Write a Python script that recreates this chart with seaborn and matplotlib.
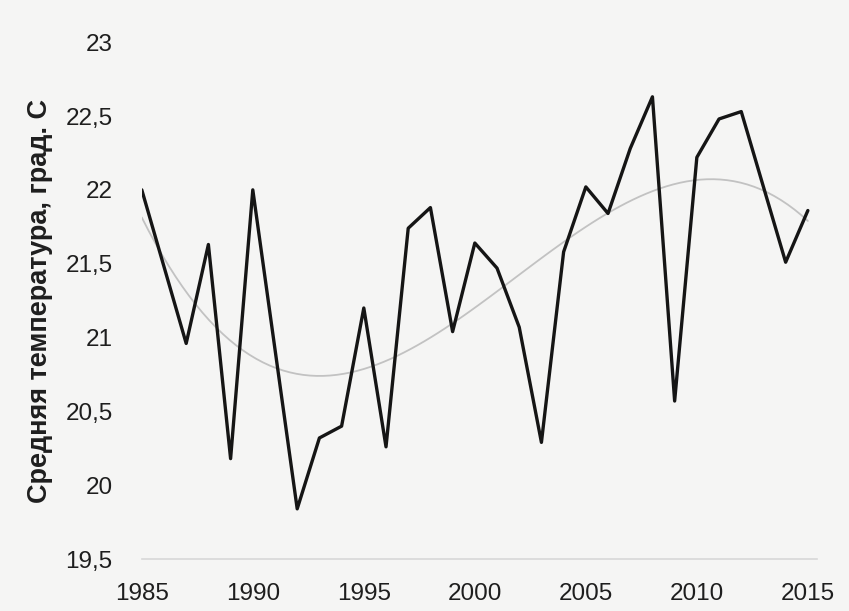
import matplotlib
matplotlib.use("Agg")
import matplotlib.pyplot as plt
import seaborn as sns
import pandas as pd

# Mean annual temperature, yearly values
years = [1985, 1986, 1987, 1988, 1989, 1990, 1991, 1992, 1993, 1994,
         1995, 1996, 1997, 1998, 1999, 2000, 2001, 2002, 2003, 2004,
         2005, 2006, 2007, 2008, 2009, 2010, 2011, 2012, 2013, 2014, 2015]
temps = [22.00, 21.48, 20.96, 21.63, 20.18, 22.00, 20.92, 19.84, 20.32, 20.40,
         21.20, 20.26, 21.74, 21.88, 21.04, 21.64, 21.47, 21.07, 20.29, 21.58,
         22.02, 21.84, 22.28, 22.63, 20.57, 22.22, 22.48, 22.53, 22.02, 21.51,
         21.86]

y_ticks = [19.5, 20, 20.5, 21, 21.5, 22, 22.5, 23]
x_ticks = [1985, 1990, 1995, 2000, 2005, 2010, 2015]
y_label = "Средняя температура, град. С"

df = pd.DataFrame({"year": years, "temp": temps})

sns.set_style("white")
plt.rcParams["font.family"] = ["Liberation Sans", "DejaVu Sans"]

fig = plt.figure(figsize=(8.49, 6.11), dpi=100, facecolor="#f5f5f4")
ax = fig.add_axes([0.167, 0.085, 0.795, 0.846])
ax.set_facecolor("#f5f5f4")

# cubic trend of the series
sns.regplot(data=df, x="year", y="temp", order=3, ci=None, scatter=False,
            ax=ax, line_kws=dict(color="#c2c2c2", lw=1.3, zorder=1))
sns.lineplot(data=df, x="year", y="temp", ax=ax, color="#151515", lw=2.4,
             zorder=2)

ax.set_xlim(1985, 2015.4)
ax.set_ylim(19.5, 23)
ax.set_yticks(y_ticks)
ax.set_yticklabels([f"{v:g}".replace(".", ",") for v in y_ticks])
ax.set_xticks(x_ticks)
ax.set_xticklabels([str(v) for v in x_ticks])
ax.tick_params(axis="both", length=0, labelsize=17.5, colors="#1e1e1e")
ax.tick_params(axis="y", pad=21)
ax.tick_params(axis="x", pad=17)
ax.set_xlabel("")
ax.set_ylabel(y_label, fontsize=19.5, fontweight="bold", color="#1e1e1e")
ax.yaxis.set_label_coords(-0.132, 0.5)

for side in ["top", "right", "left"]:
    ax.spines[side].set_visible(False)
ax.spines["bottom"].set_color("#d8d8d8")
ax.spines["bottom"].set_linewidth(1.2)

fig.savefig("out.png", dpi=100, facecolor=fig.get_facecolor())
